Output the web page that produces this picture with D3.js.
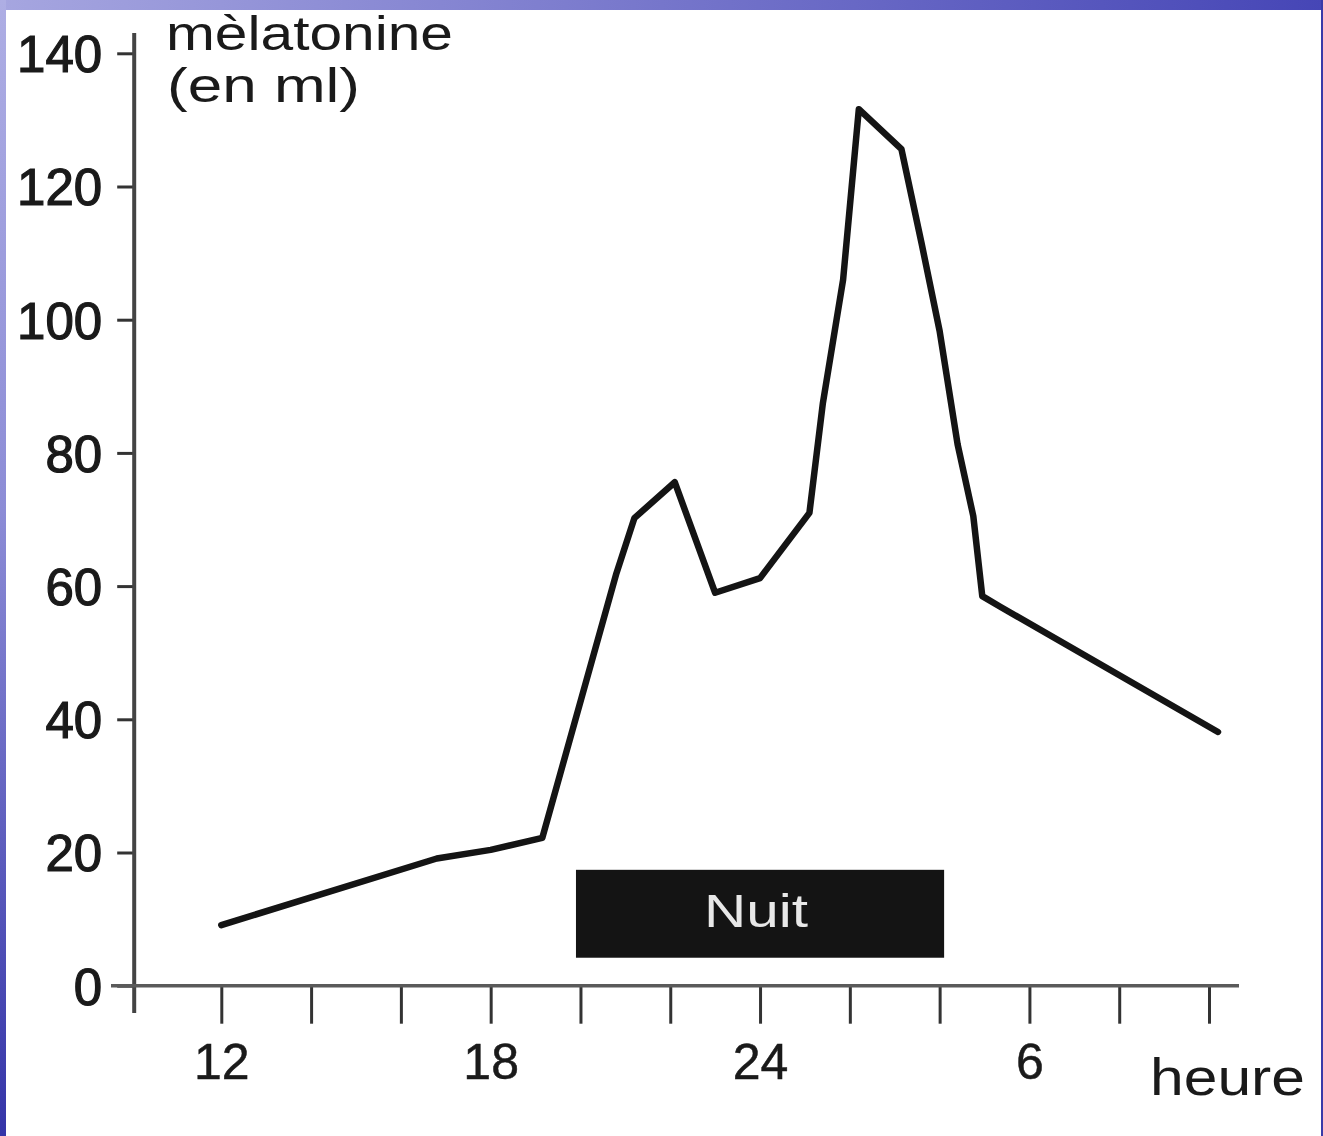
<!DOCTYPE html>
<html>
<head>
<meta charset="utf-8">
<script src="https://cdn.jsdelivr.net/npm/d3@7"></script>
<style>
  html, body { margin: 0; padding: 0; background: #fff; }
  svg { display: block; }
  text { font-family: "Liberation Sans", Arial, sans-serif; fill: #1a1a1a; }
</style>
</head>
<body>
<svg id="chart"></svg>
<script>
// melatonin over the day, hours counted past midnight as 24+
const hours = [12.0, 16.8, 18.0, 19.15, 20.8, 21.2, 22.1, 23.0, 24.0, 25.1, 25.4, 25.85, 26.2, 27.15, 27.6, 28.0, 28.4, 28.75, 28.95, 29.35, 34.2];
const melatonine = [9.1, 19.1, 20.4, 22.2, 61.9, 70.2, 75.6, 59.0, 61.2, 71.0, 87.5, 106, 131.6, 125.6, 111.4, 98.3, 81.3, 70.5, 58.5, 56.9, 38.1];

const xTickHours = [12, 14, 16, 18, 20, 22, 24, 26, 28, 30, 32, 34];
const xTickLabels = ["12", "", "", "18", "", "", "24", "", "", "6", "", ""];
const yTicks = [0, 20, 40, 60, 80, 100, 120, 140];

const nuitHours = [19.9, 28.1];
const nuitLevels = [4.2, 17.4];

const svgWidth = 1323, svgHeight = 1136;

const svg = d3.select("#chart")
  .attr("width", svgWidth)
  .attr("height", svgHeight);

// slide border (blue gradient strips)
const defs = svg.append("defs");
const gl = defs.append("linearGradient").attr("id", "leftGrad")
  .attr("x1", 0).attr("y1", 0).attr("x2", 0).attr("y2", 1);
gl.append("stop").attr("offset", "0%").attr("stop-color", "#aeaee4");
gl.append("stop").attr("offset", "45%").attr("stop-color", "#8c8cd6");
gl.append("stop").attr("offset", "100%").attr("stop-color", "#3434a8");
const gt = defs.append("linearGradient").attr("id", "topGrad")
  .attr("x1", 0).attr("y1", 0).attr("x2", 1).attr("y2", 0);
gt.append("stop").attr("offset", "0%").attr("stop-color", "#a6a6e0");
gt.append("stop").attr("offset", "100%").attr("stop-color", "#4646b6");

svg.append("rect").attr("x", 0).attr("y", 0).attr("width", svgWidth).attr("height", 10).attr("fill", "url(#topGrad)");
svg.append("rect").attr("x", 0).attr("y", 0).attr("width", 6).attr("height", svgHeight).attr("fill", "url(#leftGrad)");
svg.append("rect").attr("x", svgWidth - 2).attr("y", 0).attr("width", 2).attr("height", svgHeight).attr("fill", "#3a3aa8");

const x = d3.scaleLinear().domain([12, 34]).range([221.3, 1209]);
const y = d3.scaleLinear().domain([0, 140]).range([985.7, 53.3]);
const axisX = x(10.06);

const g = svg.append("g");

// y axis
const yAxis = g.append("g")
  .attr("transform", "translate(" + axisX + ",0)")
  .call(d3.axisLeft(y).tickValues(yTicks).tickSize(17).tickPadding(15));
yAxis.select(".domain").remove();
yAxis.selectAll(".tick line").attr("stroke", "#333").attr("stroke-width", 3);
yAxis.selectAll(".tick text")
  .style("font-size", "51px")
  .attr("fill", "#1a1a1a")
  .attr("stroke", "#1a1a1a").attr("stroke-width", 1.2)
  .attr("dy", "0.36em");

g.append("line")
  .attr("x1", axisX).attr("x2", axisX)
  .attr("y1", 33).attr("y2", 1013)
  .attr("stroke", "#444").attr("stroke-width", 4);

// x axis
const xAxis = g.append("g")
  .attr("transform", "translate(0," + y(0) + ")")
  .call(d3.axisBottom(x).tickValues(xTickHours).tickSize(38)
    .tickFormat((d, i) => xTickLabels[i]));
xAxis.select(".domain").remove();
xAxis.selectAll(".tick line").attr("stroke", "#333").attr("stroke-width", 3);
xAxis.selectAll(".tick text")
  .style("font-size", "50px")
  .attr("fill", "#1a1a1a")
  .attr("stroke", "#1a1a1a").attr("stroke-width", 0.5)
  .attr("y", 93).attr("dy", 0);

g.append("line")
  .attr("x1", 111).attr("x2", 1239)
  .attr("y1", y(0)).attr("y2", y(0))
  .attr("stroke", "#5a5a5a").attr("stroke-width", 3.5);

// night bar
g.append("rect")
  .attr("x", x(nuitHours[0]))
  .attr("y", y(nuitLevels[1]))
  .attr("width", x(nuitHours[1]) - x(nuitHours[0]))
  .attr("height", y(nuitLevels[0]) - y(nuitLevels[1]))
  .attr("fill", "#141414");
g.append("text")
  .attr("x", x((nuitHours[0] + nuitHours[1]) / 2) - 4)
  .attr("y", 927)
  .attr("text-anchor", "middle")
  .style("fill", "#e8e8e8")
  .style("font-size", "46px")
  .attr("textLength", 104).attr("lengthAdjust", "spacingAndGlyphs")
  .text("Nuit");

// melatonin curve
const data = hours.map((h, i) => ({ h: h, v: melatonine[i] }));
const line = d3.line()
  .x(d => x(d.h))
  .y(d => y(d.v));

g.append("path")
  .datum(data)
  .attr("fill", "none")
  .attr("stroke", "#141414")
  .attr("stroke-width", 6.5)
  .attr("stroke-linejoin", "round")
  .attr("stroke-linecap", "round")
  .attr("d", line);

// labels
g.append("text")
  .attr("x", 166).attr("y", 50)
  .style("font-size", "48px")
  .attr("textLength", 287).attr("lengthAdjust", "spacingAndGlyphs")
  .text("mèlatonine");
g.append("text")
  .attr("x", 167).attr("y", 102)
  .style("font-size", "48px")
  .attr("textLength", 193).attr("lengthAdjust", "spacingAndGlyphs")
  .text("(en ml)");
g.append("text")
  .attr("x", 1150).attr("y", 1095)
  .style("font-size", "52px")
  .attr("textLength", 155).attr("lengthAdjust", "spacingAndGlyphs")
  .text("heure");
</script>
</body>
</html>
